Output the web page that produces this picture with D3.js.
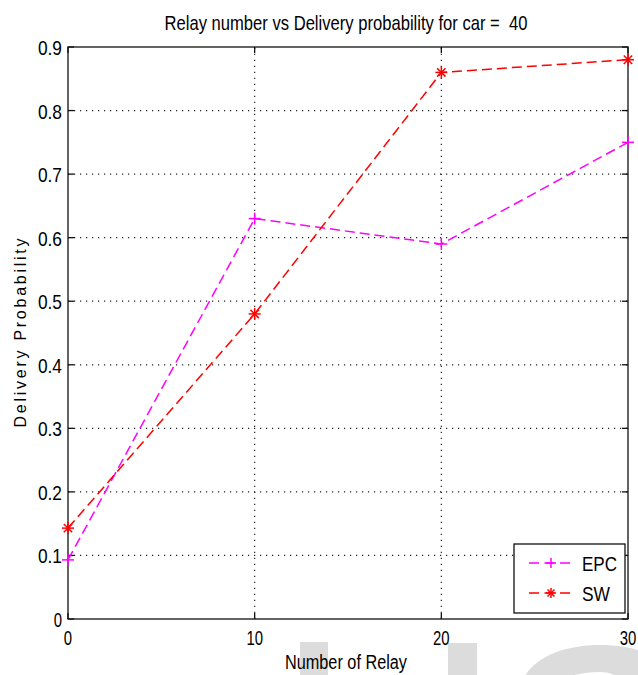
<!DOCTYPE html>
<html><head><meta charset="utf-8">
<script src="https://cdn.jsdelivr.net/npm/d3@7"></script>
<style>
body{margin:0;background:#fff;}
text{font-family:"Liberation Sans",Arial,sans-serif;fill:#000;}
</style></head><body>
<svg id="c" width="638" height="675"></svg>
<script>
const relays = [0, 10, 20, 30];
const epc = [0.093, 0.63, 0.59, 0.75];
const sw = [0.143, 0.48, 0.86, 0.88];
const xTicks = [0, 10, 20, 30];
const yTicks = [0, 0.1, 0.2, 0.3, 0.4, 0.5, 0.6, 0.7, 0.8, 0.9];
const seriesNames = ["EPC", "SW"];
const title = "Relay number vs Delivery probability for car =  40";

const svg = d3.select("#c");
const L = 68, R = 628, T = 47, B = 619;
const x = d3.scaleLinear().domain([0, 30]).range([L, R]);
const y = d3.scaleLinear().domain([0, 0.9]).range([B, T]);

function narrow(sel, w) {
  sel.attr("textLength", w).attr("lengthAdjust", "spacingAndGlyphs");
  return sel;
}
const digitW = 8.3, dotW = 7.5;
function numW(s) { let w = 0; for (const ch of s) w += ch === "." ? dotW : digitW; return w; }

// watermark shapes
const wm = svg.append("g").attr("fill", "#dcdcdc");
wm.append("rect").attr("x", 300).attr("y", 642).attr("width", 28).attr("height", 40);
wm.append("rect").attr("x", 448).attr("y", 643).attr("width", 29).attr("height", 40);
wm.append("path").attr("d", "M520,690 C525,660 560,645 600,645 C625,645 640,650 650,655 L650,690 L620,690 C625,680 615,672 600,672 C575,672 555,680 552,690 Z");

// grid
const grid = svg.append("g").attr("stroke", "#222").attr("stroke-width", 1.2).attr("stroke-dasharray", "1.2,4.8");
xTicks.filter(d => d > 0 && d < 30).forEach(d => {
  grid.append("line").attr("x1", x(d)).attr("x2", x(d)).attr("y1", B).attr("y2", T);
});
yTicks.filter(d => d > 0 && d < 0.9).forEach(d => {
  grid.append("line").attr("x1", L).attr("x2", R).attr("y1", y(d)).attr("y2", y(d));
});

// axes box with inward ticks
const ax = svg.append("g");
ax.append("rect").attr("x", L).attr("y", T).attr("width", R - L).attr("height", B - T)
  .attr("fill", "none").attr("stroke", "#111").attr("stroke-width", 1.3);
const tl = 6;
xTicks.forEach(d => {
  ax.append("line").attr("x1", x(d)).attr("x2", x(d)).attr("y1", B).attr("y2", B - tl).attr("stroke", "#111").attr("stroke-width", 1.3);
  ax.append("line").attr("x1", x(d)).attr("x2", x(d)).attr("y1", T).attr("y2", T + tl).attr("stroke", "#111").attr("stroke-width", 1.3);
  // horizontally condensed label via transform
  ax.append("text").attr("transform", `translate(${x(d)},${B + 26}) scale(0.71,1)`)
    .attr("text-anchor", "middle").attr("font-size", 21).text(String(d));
});
yTicks.forEach(d => {
  ax.append("line").attr("x1", L).attr("x2", L + tl).attr("y1", y(d)).attr("y2", y(d)).attr("stroke", "#111").attr("stroke-width", 1.3);
  ax.append("line").attr("x1", R).attr("x2", R - tl).attr("y1", y(d)).attr("y2", y(d)).attr("stroke", "#111").attr("stroke-width", 1.3);
  const s = d3.format("")(d);
  narrow(ax.append("text").attr("x", L - 6).attr("y", y(d) + 8).attr("text-anchor", "end").attr("font-size", 21).text(s), numW(s));
});

// labels
narrow(svg.append("text").attr("x", 346).attr("y", 30).attr("text-anchor", "middle").attr("font-size", 21)
  .style("white-space", "pre").attr("xml:space", "preserve").text(title), 363);
narrow(svg.append("text").attr("x", 346).attr("y", 669).attr("text-anchor", "middle").attr("font-size", 20).text("Number of Relay"), 122);
svg.append("text").attr("transform", "translate(26,333) rotate(-90)").attr("text-anchor", "middle")
  .attr("font-size", 16).attr("textLength", 189).attr("lengthAdjust", "spacing").text("Delivery Probability");

// series
const line = d3.line().x((d, i) => x(relays[i])).y(d => y(d));
function plus(g, cx, cy, c, r) {
  g.append("line").attr("x1", cx - r).attr("x2", cx + r).attr("y1", cy).attr("y2", cy).attr("stroke", c).attr("stroke-width", 1.5);
  g.append("line").attr("x1", cx).attr("x2", cx).attr("y1", cy - r).attr("y2", cy + r).attr("stroke", c).attr("stroke-width", 1.5);
}
function star(g, cx, cy, c, r) {
  plus(g, cx, cy, c, r);
  const k = r * 0.7;
  g.append("line").attr("x1", cx - k).attr("x2", cx + k).attr("y1", cy - k).attr("y2", cy + k).attr("stroke", c).attr("stroke-width", 1.5);
  g.append("line").attr("x1", cx - k).attr("x2", cx + k).attr("y1", cy + k).attr("y2", cy - k).attr("stroke", c).attr("stroke-width", 1.5);
}
const series = [{vals: epc, color: "#ff00ff", mk: plus}, {vals: sw, color: "#ff0000", mk: star}];
series.forEach(s => {
  const g = svg.append("g");
  g.append("path").attr("d", line(s.vals)).attr("fill", "none").attr("stroke", s.color)
    .attr("stroke-width", 1.5).attr("stroke-dasharray", "10,5");
  s.vals.forEach((v, i) => s.mk(g, x(relays[i]), y(v), s.color, 6));
});

// legend
const lg = svg.append("g");
lg.append("rect").attr("x", 514).attr("y", 544).attr("width", 111).attr("height", 69)
  .attr("fill", "#fff").attr("stroke", "#111").attr("stroke-width", 1.3);
const legW = [35, 28];
seriesNames.forEach((n, i) => {
  const ly = 563 + i * 30;
  const s = series[i];
  lg.append("line").attr("x1", 529).attr("x2", 574).attr("y1", ly).attr("y2", ly)
    .attr("stroke", s.color).attr("stroke-width", 1.5).attr("stroke-dasharray", "10,5.5");
  s.mk(lg, 551, ly, s.color, 5);
  narrow(lg.append("text").attr("x", 582).attr("y", ly + 8).attr("font-size", 21).text(n), legW[i]);
});
</script>
</body></html>
